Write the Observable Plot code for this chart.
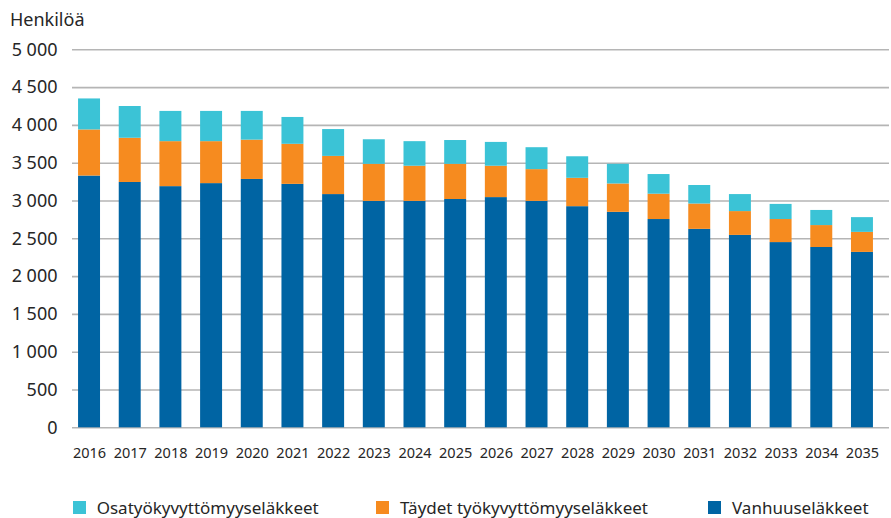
<!DOCTYPE html>
<html>
<head>
<meta charset="utf-8">
<script src="https://cdn.jsdelivr.net/npm/d3@7"></script>
<script src="https://cdn.jsdelivr.net/npm/@observablehq/plot@0.6"></script>
<style>
  html, body { margin: 0; padding: 0; background: #fff; }
  body { width: 891px; height: 518px; position: relative; overflow: hidden; font-family: "Noto Sans", sans-serif; color: #262626; }
  #title { position: absolute; left: 10px; top: 7px; font-size: 18px; line-height: 24px; }
  #chart { position: absolute; left: 0; top: 30px; }
  .legend-item { position: absolute; top: 497px; height: 20px; display: flex; align-items: center; font-size: 17px; white-space: nowrap; }
  .legend-item .sw { width: 13px; height: 13px; margin-right: 11px; display: inline-block; }
</style>
</head>
<body>
<div id="title">Henkilöä</div>
<div id="chart"></div>
<div id="legend"></div>
<script>
const years = [2016,2017,2018,2019,2020,2021,2022,2023,2024,2025,2026,2027,2028,2029,2030,2031,2032,2033,2034,2035];
const vanhuus = [3330,3245,3190,3230,3285,3220,3085,2995,2995,3020,3045,2995,2925,2850,2755,2625,2545,2450,2385,2320];
const taydet  = [610,585,595,555,520,530,505,490,465,465,415,420,375,375,335,335,315,305,290,265];
const osa     = [410,420,400,400,380,355,355,325,325,315,315,290,285,260,260,245,225,200,200,195];
const seriesNames = ["Vanhuuseläkkeet", "Täydet työkyvyttömyyseläkkeet", "Osatyökyvyttömyyseläkkeet"];
const seriesColors = ["#0064a3", "#f68b1f", "#3bc3d6"];
const yTicks = [0,500,1000,1500,2000,2500,3000,3500,4000,4500,5000];
const legendOrder = ["Osatyökyvyttömyyseläkkeet", "Täydet työkyvyttömyyseläkkeet", "Vanhuuseläkkeet"];

const seriesValues = [vanhuus, taydet, osa];
const data = [];
seriesNames.forEach((s, si) => {
  years.forEach((y, i) => data.push({year: String(y), series: s, value: seriesValues[si][i]}));
});

const fmt = v => d3.format(",")(v).replace(/,/g, "\u00a0");

const chart = Plot.plot({
  width: 891,
  height: 440,
  marginTop: 19.3,
  marginBottom: 42.7,
  marginLeft: 72,
  marginRight: 2,
  style: {fontFamily: "Noto Sans, sans-serif", color: "#262626", background: "white"},
  x: {type: "band", domain: years.map(String), range: [68.7, 882.3], round: false, paddingInner: 0.46, paddingOuter: 0.23, label: null},
  y: {domain: [0, 5000], label: null},
  color: {domain: seriesNames, range: seriesColors},
  marks: [
    Plot.ruleY(yTicks, {stroke: "#b5b5b5", strokeWidth: 1.6}),
    Plot.barY(data, {x: "year", y: "value", fill: "series", order: seriesNames}),
    Plot.axisY(yTicks, {tickSize: 0, tickPadding: 15, tickFormat: fmt, fontSize: 18, label: null}),
    Plot.axisX({tickSize: 0, tickPadding: 19.5, fontSize: 14.5, label: null})
  ]
});
document.getElementById("chart").appendChild(chart);

const legendX = [72.7, 376, 708];
const legend = document.getElementById("legend");
legendOrder.forEach((name, i) => {
  const item = document.createElement("div");
  item.className = "legend-item";
  item.style.left = legendX[i] + "px";
  const sw = document.createElement("span");
  sw.className = "sw";
  sw.style.background = seriesColors[seriesNames.indexOf(name)];
  item.appendChild(sw);
  item.appendChild(document.createTextNode(name));
  legend.appendChild(item);
});
</script>
</body>
</html>
